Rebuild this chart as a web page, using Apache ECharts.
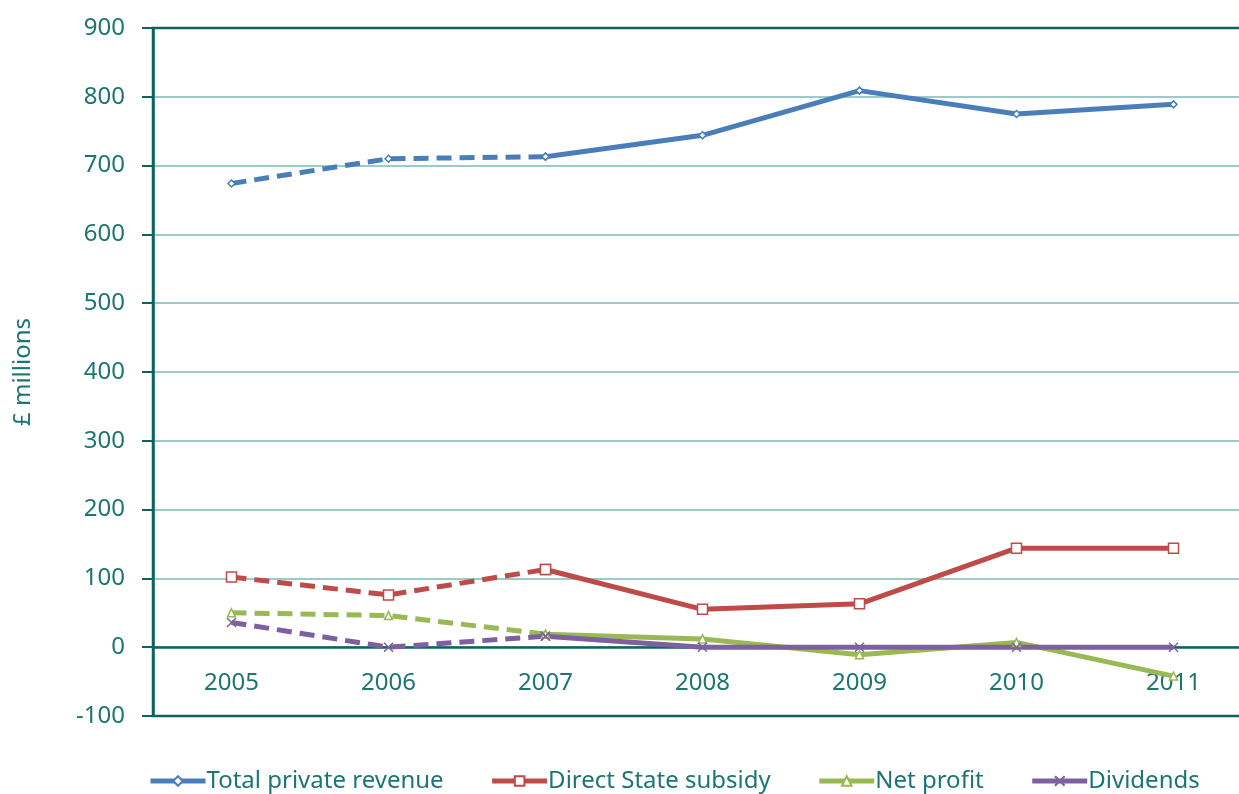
<!DOCTYPE html>
<html>
<head>
<meta charset="utf-8">
<script src="https://cdn.jsdelivr.net/npm/echarts@6/dist/echarts.min.js"></script>
<style>
  html, body { margin: 0; padding: 0; background: #fff; overflow: hidden; }
  #chart { width: 1270px; height: 794px; }
</style>
</head>
<body>
<div id="chart"></div>
<script>
// data
const years = ['2005', '2006', '2007', '2008', '2009', '2010', '2011']
const revenue = [674, 710, 713, 744, 809, 775, 789]
const subsidy = [102, 76, 113, 55, 63, 144, 144]
const netProfit = [50, 46, 19, 12, -11, 7, -42]
const dividends = [36, 0, 16, 0, 0, 0, 0]
const yTicks = { min: -100, max: 900, interval: 100 }

const teal = '#0d6360'
const labelTeal = '#1b7673'
const crossPath = 'path://M0,0L10,10M10,0L0,10'

// first 3 years dashed, from 2007 on solid
const dashedPart = arr => arr.map((v, i) => (i <= 2 ? v : '-'))
const solidPart = arr => arr.map((v, i) => (i >= 2 ? v : '-'))

const lines = [
  { name: 'Total private revenue', data: revenue, color: '#4a7ebb', symbol: 'diamond', size: 7 },
  { name: 'Direct State subsidy', data: subsidy, color: '#be4b48', symbol: 'rect', size: 10 },
  { name: 'Net profit', data: netProfit, color: '#98b954', symbol: 'triangle', size: 8 },
  { name: 'Dividends', data: dividends, color: '#7d60a0', symbol: crossPath, size: 9 }
]

const series = []
lines.forEach(l => {
  const common = {
    name: l.name,
    type: 'line',
    symbol: l.symbol,
    symbolSize: l.size,
    showAllSymbol: true,
    itemStyle: { color: '#fff', borderColor: l.color, borderWidth: 1.5 },
    emphasis: { disabled: true },
    animation: false
  }
  series.push(Object.assign({}, common, {
    data: solidPart(l.data),
    lineStyle: { color: l.color, width: 5 }
  }))
  series.push(Object.assign({}, common, {
    data: dashedPart(l.data),
    lineStyle: { color: l.color, width: 5, type: [15, 8] }
  }))
})

// y pixels per unit: 688px for 1000 units, x axis sits on 0
const zeroOffset = -688 * (0 - yTicks.min) / (yTicks.max - yTicks.min)

const chart = echarts.init(document.getElementById('chart'))
chart.setOption({
  backgroundColor: '#fff',
  textStyle: { fontFamily: 'Noto Sans' },
  grid: {
    left: 153,
    top: 28,
    width: 1099,
    height: 688,
    show: true,
    borderColor: teal,
    borderWidth: 2.5
  },
  legend: {
    left: 143,
    top: 764,
    itemWidth: 55,
    itemHeight: 12,
    itemGap: 46,
    data: lines.map(l => l.name),
    lineStyle: { width: 5 },
    textStyle: { color: labelTeal, fontSize: 24, fontFamily: 'Noto Sans', padding: [0, 0, 0, -4] }
  },
  xAxis: {
    type: 'category',
    data: years,
    offset: zeroOffset,
    axisLine: { onZero: false, lineStyle: { color: teal, width: 2.5 } },
    axisTick: { length: 8, lineStyle: { color: teal, width: 2 } },
    axisLabel: { color: labelTeal, fontSize: 24, margin: 24 },
    splitLine: { show: false }
  },
  yAxis: {
    type: 'value',
    min: yTicks.min,
    max: yTicks.max,
    interval: yTicks.interval,
    name: '£ millions',
    nameLocation: 'middle',
    nameRotate: 90,
    nameGap: 118,
    nameTextStyle: { color: labelTeal, fontSize: 24 },
    axisLine: { show: true, lineStyle: { color: teal, width: 2.5 } },
    axisTick: { show: true, length: 11, lineStyle: { color: teal, width: 2 } },
    axisLabel: { color: labelTeal, fontSize: 24, margin: 28 },
    splitLine: { showMinLine: false, showMaxLine: false, lineStyle: { color: '#9ccac8', width: 2 } }
  },
  series: series
})
</script>
</body>
</html>
